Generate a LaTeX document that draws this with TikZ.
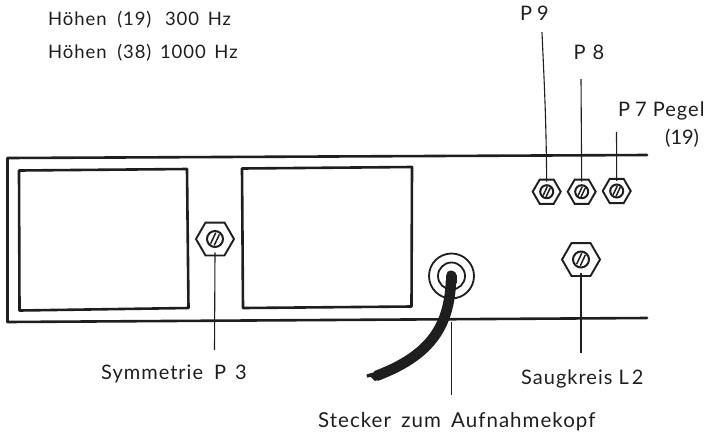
\documentclass[tikz,border=0pt]{standalone}
\usepackage{fontspec}
\setmainfont{Lato}[LetterSpace=5]
\usetikzlibrary{shapes.geometric,calc}
\definecolor{ink}{HTML}{1E1E1E}
\tikzset{
  frameline/.style={draw=ink,line width=2.6pt,line cap=round,line join=round},
  leader/.style={draw=ink,line width=1.1pt},
  nut/.style={regular polygon,regular polygon sides=6,draw=ink,line width=1.9pt,inner sep=0pt,fill=white},
  smallnut/.style={nut,minimum size=28pt},
  bignut/.style={nut,minimum size=38pt},
  lbl/.style={inner sep=0pt,anchor=base west,text=ink,font=\fontsize{20}{22}\selectfont},
  toplbl/.style={lbl,font=\fontsize{18.5}{20}\selectfont},
  widelbl/.style={lbl,font=\fontsize{20.5}{22}\selectfont},
  narrowlbl/.style={lbl,font=\fontsize{20}{22}\selectfont\addfontfeature{LetterSpace=0}},
}
\newcommand{\screwhead}[2]{%
  \draw[ink,line width=2pt] (#1) circle (#2pt);
  \draw[ink,line width=1.5pt] ($(#1)+(-0.10*#2,0.80*#2)$) -- ($(#1)+(0.55*#2,-0.58*#2)$);
  \draw[ink,line width=1.5pt] ($(#1)+(-0.55*#2,0.58*#2)$) -- ($(#1)+(0.10*#2,-0.80*#2)$);
}
\begin{document}
\begin{tikzpicture}[x=1pt,y=-1pt]
\useasboundingbox (0,0) rectangle (707,432);
% panel
\draw[frameline] (647,155) -- (7.5,158) -- (7.5,322) -- (647,318);
\draw[frameline] (19,170.5) -- (187,169) -- (188.5,308) -- (19.5,310.5) -- cycle;
\draw[frameline] (242,168.5) -- (412,167) -- (411.5,306.5) -- (243,308) -- cycle;
% screws
\node[smallnut] (s9) at (546.7,191.7) {};
\node[smallnut] (s8) at (581.7,191.7) {};
\node[smallnut] (s7) at (616.7,191) {};
\node[bignut] (s3) at (215,239) {};
\node[bignut] (s2) at (581,259.5) {};
\screwhead{s9}{6.5}\screwhead{s8}{6.5}\screwhead{s7}{6.5}
\screwhead{s3}{8}\screwhead{s2}{8}
% connector
\node[circle,draw=ink,line width=1.8pt,minimum size=45pt,inner sep=0pt] (plugo) at (451.5,276) {};
\node[circle,draw=ink,line width=1.8pt,minimum size=27pt,inner sep=0pt] (plugi) at (451.5,276) {};
\draw[ink,line width=11pt,line cap=round] (451,276) -- (451,282);
\draw[ink,line width=10.5pt] (451,281) .. controls (449,325) and (432,355) .. (376,376);
\fill[ink] (378,371) -- (366.5,374.5) -- (367,377.5) -- (371,377) -- (375,381) -- (382,378.5) -- cycle;
% labels
\node[toplbl] (h1) at (48,25.5) {Höhen\hspace{5pt} (19)\hspace{8pt} 300\hspace{3pt} Hz};
\node[toplbl] (h2) at (48,58.5) {Höhen\hspace{5pt} (38)\hspace{3pt} 1000\hspace{3pt} Hz};
\node[lbl] (lp9) at (520,20) {P\hspace{5pt}9};
\node[lbl] (lp8) at (573.5,59) {P\hspace{7pt}8};
\node[lbl] (lp7) at (618,116) {P\hspace{5pt}7 Pegel};
\node[narrowlbl] (lp19) at (665,144) {(19)};
\node[lbl] (lsym) at (101,379) {Symmetrie\hspace{5pt} P\hspace{9pt}3};
\node[lbl] (lsau) at (521,384) {Saugkreis L\hspace{3pt}2};
\node[widelbl] (lste) at (318,427) {Stecker\hspace{4pt} zum\hspace{4pt} Aufnahmekopf};
% leaders
\coordinate (t9) at (542,32);
\coordinate (t8) at (581,79);
\coordinate (t7) at (616.5,132);
\coordinate (b3) at (214.5,350);
\coordinate (b2) at (581,353);
\coordinate (t1) at (451.3,322);
\coordinate (b1) at (451.3,395);
\draw[leader] (t9) .. controls (544,80) and (546,110) .. ([yshift=-3pt]s9.north);
\draw[leader] (t8) -- ([yshift=-3pt]s8.north);
\draw[leader] (t7) -- ([yshift=-3pt]s7.north);
\draw[leader] (b3) -- ([yshift=4pt]s3.south);
\draw[leader] (b2) -- ([yshift=4pt]s2.south);
\draw[leader] (t1) -- (b1);
\end{tikzpicture}
\end{document}
